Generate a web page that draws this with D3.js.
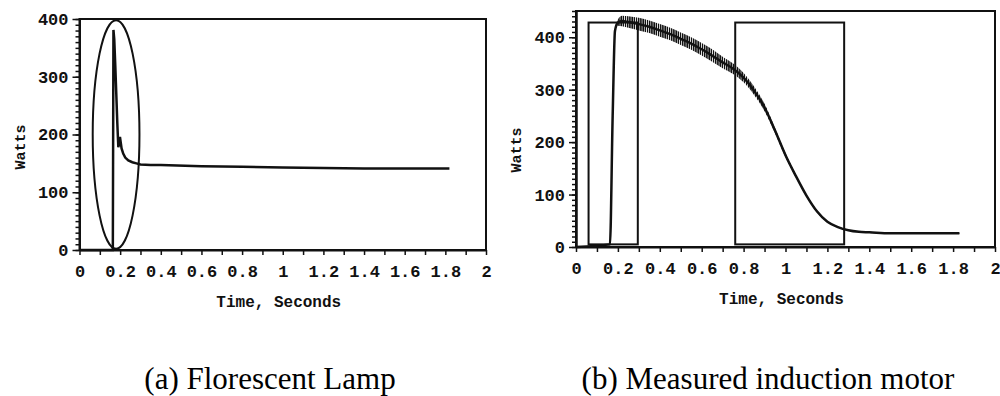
<!DOCTYPE html>
<html>
<head>
<meta charset="utf-8">
<script src="https://cdn.jsdelivr.net/npm/d3@7"></script>
<style>
  body { margin: 0; background: #fff; }
  .axis path, .axis line { stroke: #111; }
  .axis path { stroke-width: 2; }
  .axis line { stroke-width: 1.5; }
</style>
</head>
<body>
<div id="chart"></div>
<script>
// (a) florescent lamp, watts vs seconds
const lampTime  = [0, 0.164, 0.167, 0.171, 0.176, 0.181, 0.186, 0.191, 0.195, 0.199, 0.203, 0.207, 0.215, 0.225, 0.24, 0.26, 0.28, 0.3, 0.35, 0.4, 0.6, 0.8, 1.0, 1.2, 1.4, 1.6, 1.82];
const lampWatts = [0, 0, 381, 365, 320, 270, 220, 178, 184, 196, 186, 176, 167, 160, 155, 152, 150, 148, 147, 147, 145, 144, 143, 142, 141, 141, 141];
// ellipse drawn round the start-up transient (time span, watt span)
const lampMarkTime  = [0.065, 0.295];
const lampMarkWatts = [2, 398];

// (b) induction motor: mean trace and half-height of the ripple band
const motorTime   = [0, 0.162, 0.175, 0.186, 0.2, 0.22, 0.25, 0.3, 0.35, 0.4, 0.45, 0.5, 0.55, 0.6, 0.65, 0.7, 0.75, 0.8, 0.85, 0.9, 0.95, 1.0, 1.05, 1.1, 1.15, 1.2, 1.25, 1.3, 1.35, 1.4, 1.5, 1.6, 1.7, 1.83];
const motorWatts  = [0, 5, 250, 412, 428, 431, 429, 425, 420, 413, 406, 397, 388, 377, 365, 352, 340, 323, 298, 266, 222, 175, 135, 98, 68, 48, 38, 32, 29, 28, 26, 26, 26, 26];
const motorRipple = [0, 0, 0, 0, 6, 10, 11, 12, 12, 12, 12, 12, 12, 12, 12, 11, 10, 9, 8, 7, 5, 4, 3, 2, 2, 1, 1, 1, 1, 1, 1, 1, 1, 1];
// boxes marking the two windows
const motorWindowStart = [0.06, 0.76];
const motorWindowEnd   = [0.295, 1.28];
const motorWindowWatts = [5, 428];

const xTicks = [0, 0.2, 0.4, 0.6, 0.8, 1, 1.2, 1.4, 1.6, 1.8, 2];
const yTicks = [0, 100, 200, 300, 400];
const xLabel = 'Time, Seconds';
const yLabel = 'Watts';
const captions = ['(a) Florescent Lamp', '(b) Measured induction motor'];

const plotFont = "'Liberation Mono', 'DejaVu Sans Mono', monospace";
const captionFont = "'Liberation Serif', 'Times New Roman', Times, serif";

const svg = d3.select('div#chart').append('svg')
  .attr('width', 1000)
  .attr('height', 396);

const defs = svg.append('defs');
defs.append('pattern')
  .attr('id', 'ripple')
  .attr('patternUnits', 'userSpaceOnUse')
  .attr('width', 2.2).attr('height', 8)
  .append('rect').attr('width', 1.5).attr('height', 8).attr('fill', '#111');

function panel(box, yMax) {
  const x = d3.scaleLinear().domain([0, 2]).range([box.left, box.right]);
  const y = d3.scaleLinear().domain([0, yMax]).range([box.bottom, box.top]);
  const g = svg.append('g');

  // frame
  g.append('rect')
    .attr('x', box.left).attr('y', box.top)
    .attr('width', box.right - box.left).attr('height', box.bottom - box.top)
    .attr('fill', 'none').attr('stroke', '#111').attr('stroke-width', 2);

  const minorX = d3.range(0, 20.5).map(d => d / 10);
  g.append('g').attr('class', 'axis')
    .attr('transform', `translate(0,${box.bottom})`)
    .call(d3.axisBottom(x).tickValues(minorX).tickSize(5).tickSizeOuter(0)
      .tickPadding(10)
      .tickFormat(d => xTicks.some(t => Math.abs(t - d) < 1e-6) ? String(+d.toFixed(1)) : ''));

  const minorY = d3.range(0, yMax + 1, 10);
  g.append('g').attr('class', 'axis')
    .attr('transform', `translate(${box.left},0)`)
    .call(d3.axisLeft(y).tickValues(minorY).tickSize(4).tickSizeOuter(0).tickFormat(''));
  g.append('g').attr('class', 'axis')
    .attr('transform', `translate(${box.left},0)`)
    .call(d3.axisLeft(y).tickValues(yTicks).tickSize(7).tickSizeOuter(0).tickPadding(4));

  g.selectAll('.axis').attr('font-family', plotFont).attr('font-size', 17).attr('font-weight', 'bold');
  g.selectAll('.tick text').attr('fill', '#111');

  g.append('text')
    .attr('font-family', plotFont).attr('font-size', 16).attr('font-weight', 'bold').attr('fill', '#111')
    .attr('x', (box.left + box.right) / 2 - 4).attr('y', box.bottom + 57)
    .attr('text-anchor', 'middle').text(xLabel);
  g.append('text')
    .attr('font-family', plotFont).attr('font-size', 15).attr('font-weight', 'bold').attr('fill', '#111')
    .attr('transform', `translate(${box.ylabX},${box.ylabY}) rotate(-90)`)
    .attr('text-anchor', 'middle').text(yLabel);
  return { g, x, y };
}

// (a)
const a = panel({ left: 79.5, right: 486, top: 19, bottom: 250, ylabX: 25, ylabY: 147 }, 400);
const lampPts = lampTime.map((t, i) => [t, lampWatts[i]]);
a.g.append('path')
  .attr('d', d3.line().x(d => a.x(d[0])).y(d => a.y(d[1]))(lampPts))
  .attr('fill', 'none').attr('stroke', '#111').attr('stroke-width', 2.5);
a.g.append('ellipse')
  .attr('cx', a.x((lampMarkTime[0] + lampMarkTime[1]) / 2))
  .attr('cy', a.y((lampMarkWatts[0] + lampMarkWatts[1]) / 2))
  .attr('rx', (a.x(lampMarkTime[1]) - a.x(lampMarkTime[0])) / 2)
  .attr('ry', (a.y(lampMarkWatts[0]) - a.y(lampMarkWatts[1])) / 2)
  .attr('fill', 'none').attr('stroke', '#111').attr('stroke-width', 2);

// (b)
const b = panel({ left: 576, right: 995, top: 11, bottom: 247, ylabX: 521, ylabY: 150 }, 450);
const motorPts = motorTime.map((t, i) => [t, motorWatts[i], motorRipple[i]]);
b.g.append('path')
  .attr('d', d3.area().curve(d3.curveMonotoneX)
    .x(d => b.x(d[0])).y0(d => b.y(d[1] - d[2])).y1(d => b.y(d[1] + d[2]))(motorPts))
  .attr('fill', 'url(#ripple)');
b.g.append('path')
  .attr('d', d3.line().curve(d3.curveMonotoneX).x(d => b.x(d[0])).y(d => b.y(d[1]))(motorPts))
  .attr('fill', 'none').attr('stroke', '#111').attr('stroke-width', 2.5);
b.g.selectAll('rect.window')
  .data(motorWindowStart.map((s, i) => [s, motorWindowEnd[i]]))
  .enter().append('rect')
  .attr('class', 'window')
  .attr('x', d => b.x(d[0]))
  .attr('y', b.y(motorWindowWatts[1]))
  .attr('width', d => b.x(d[1]) - b.x(d[0]))
  .attr('height', b.y(motorWindowWatts[0]) - b.y(motorWindowWatts[1]))
  .attr('fill', 'none').attr('stroke', '#111').attr('stroke-width', 2);

svg.selectAll('text.caption')
  .data(captions)
  .enter().append('text')
  .attr('class', 'caption')
  .attr('font-family', captionFont).attr('font-size', 31).attr('fill', '#000')
  .attr('x', (d, i) => [270, 768][i])
  .attr('y', 389)
  .attr('text-anchor', 'middle')
  .text(d => d);
</script>
</body>
</html>
